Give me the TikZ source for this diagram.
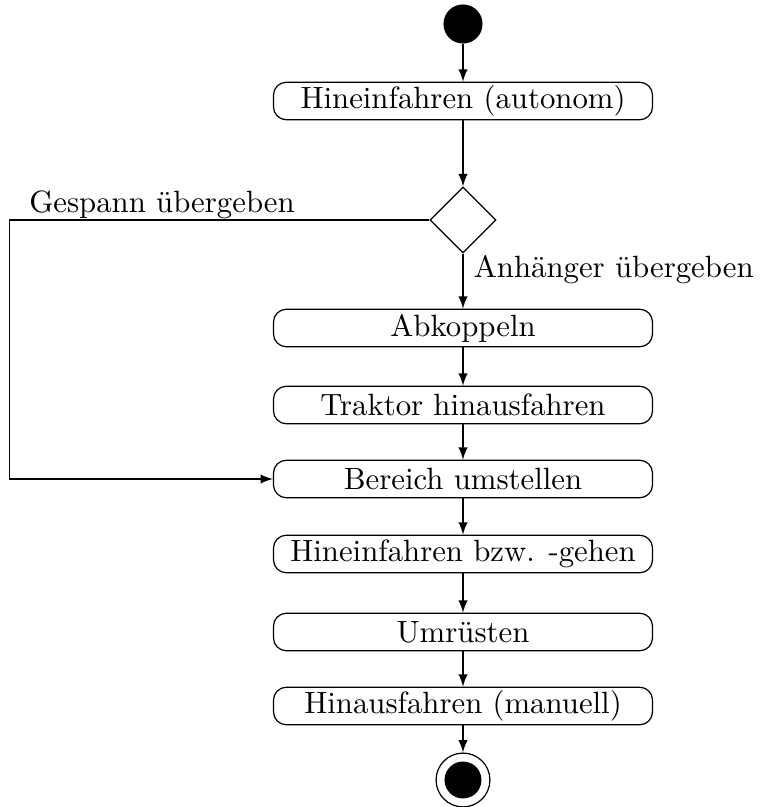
\documentclass[tikz,border=0pt]{standalone}
\usetikzlibrary{shapes.geometric,arrows}
\begin{document}
\begin{tikzpicture}[x=0.325pt,y=-0.325pt,
  action/.style={draw,rounded corners=4.2pt,minimum width=123.2pt,minimum height=12.2pt,inner sep=0pt},
  decision/.style={draw,diamond,minimum width=21.5pt,minimum height=21.5pt,inner sep=0pt},
  startnode/.style={circle,fill=black,minimum size=12.7pt,inner sep=0pt},
  flow/.style={-latex}]
\useasboundingbox (0,0) rectangle (759,807);
\node[startnode] (s) at (463,24) {};
\node[action] (a1) at (463,101) {Hineinfahren (autonom)};
\node[decision] (d) at (463,220) {};
\node[action] (a2) at (463,328) {Abkoppeln};
\node[action] (a3) at (463,405) {Traktor hinausfahren};
\node[action] (a4) at (463,479) {Bereich umstellen};
\node[action] (a5) at (463,554) {Hineinfahren bzw. -gehen};
\node[action] (a6) at (463,632) {Umrüsten};
\node[action] (a7) at (463,706) {Hinausfahren (manuell)};
\node[circle,draw,minimum size=17.5pt,inner sep=0pt] (e) at (463,780) {};
\node[circle,fill=black,minimum size=12pt,inner sep=0pt] (ei) at (463,780) {};
\node (lg) at (162,205) {Gespann übergeben};
\node[anchor=west] (la) at (463,270) {Anhänger übergeben};
\draw[flow] (s) -- (a1);
\draw[flow] (a1) -- (d);
\draw[flow] (d) -- (a2);
\draw[flow] (a2) -- (a3);
\draw[flow] (a3) -- (a4);
\draw[flow] (a4) -- (a5);
\draw[flow] (a5) -- (a6);
\draw[flow] (a6) -- (a7);
\draw[flow] (a7) -- (e);
\draw[flow] (d.west) -- ++(-420,0) |- (a4.west);
\end{tikzpicture}
\end{document}
